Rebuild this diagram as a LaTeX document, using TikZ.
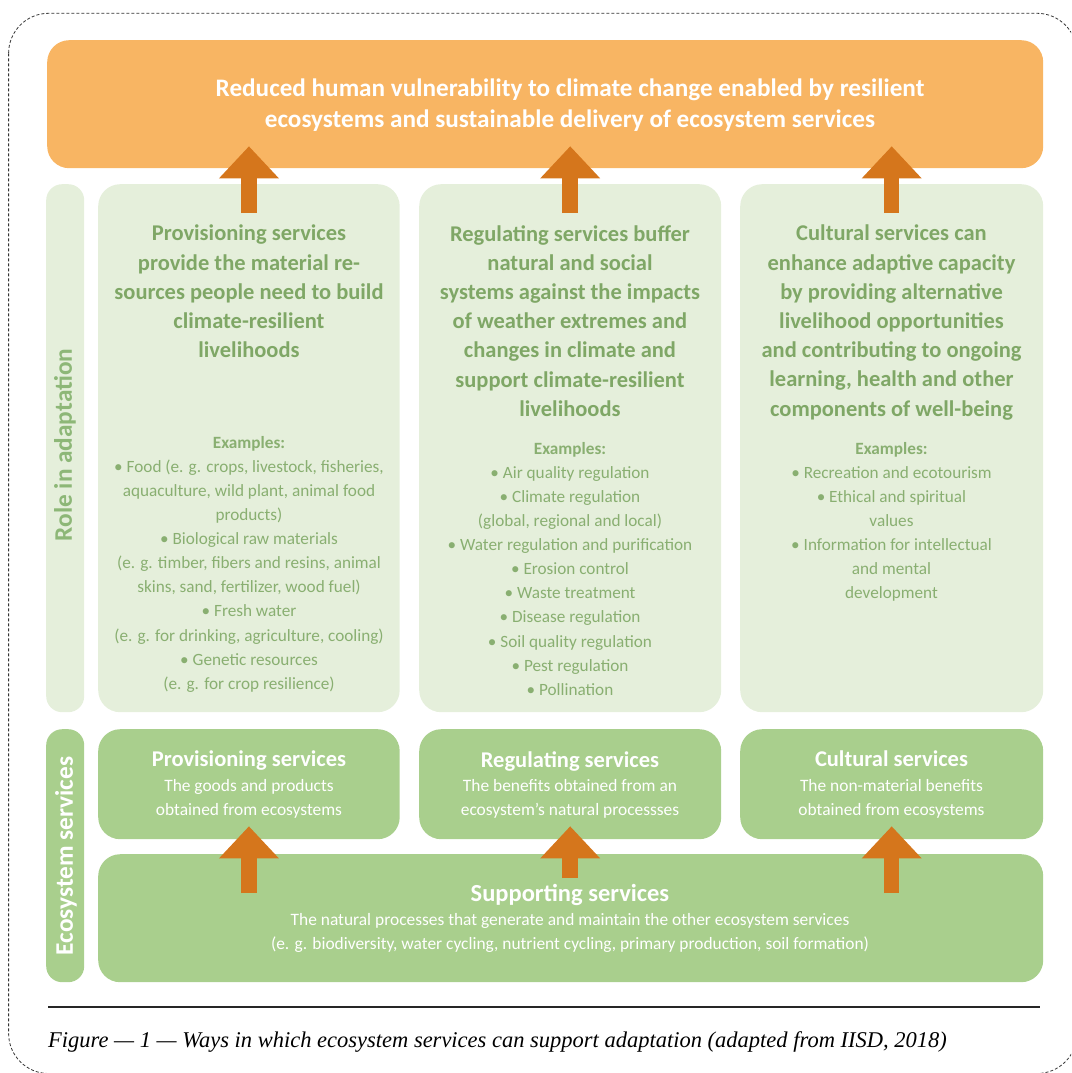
\documentclass[tikz,border=0pt]{standalone}
\usepackage{fontspec}
\setmainfont{Carlito}
\newfontfamily\capfont{Liberation Serif}
\usetikzlibrary{arrows.meta}
\definecolor{goalorange}{HTML}{F8B563}
\definecolor{arroworange}{HTML}{D5761C}
\definecolor{palegreen}{HTML}{E5EFDB}
\definecolor{midgreen}{HTML}{A9CF8D}
\definecolor{headgreen}{HTML}{7FA766}
\definecolor{examplegreen}{HTML}{89AF71}
\definecolor{sidegreen}{HTML}{8DB777}

\begin{document}
\begin{tikzpicture}[x=1pt,y=-1pt,
  panel/.style={fill=palegreen,rounded corners=22pt,anchor=north west},
  tile/.style={fill=midgreen,rounded corners=22pt,anchor=north west},
  bar/.style={rounded corners=16pt,anchor=north west,minimum width=38pt},
  headtxt/.style={anchor=north,align=center,text=headgreen,font=\fontsize{22.5}{29.2}\selectfont\bfseries},
  extxt/.style={anchor=north,align=center,text=examplegreen,font=\fontsize{17.2}{24.1}\selectfont},
  tiletxt/.style={anchor=north,align=center,text=white,font=\fontsize{17.4}{24.1}\selectfont},
  sidetxt/.style={rotate=90,font=\fontsize{25.3}{30}\selectfont\bfseries},
  bigarrow/.style={draw=arroworange,line width=15.5pt,-{Triangle[width=60pt,length=32pt,line width=0pt]}}]
\tikzstyle{every node}+=[inner sep=0pt]
\useasboundingbox (0,0) rectangle (1071,1073);
\clip (0,0) rectangle (1071,1073);
\draw [black!80,line width=0.8pt,dash pattern=on 3pt off 2pt,rounded corners=40pt] (8.6,13.3) rectangle (1077,1073.5);
\node [fill=goalorange,rounded corners=22pt,anchor=north west,minimum width=996pt,minimum height=128pt] (goal) at (47,40) {};
\node [anchor=north,align=center,text=white,font=\fontsize{25.2}{30.8}\selectfont\bfseries] (goaltxt) at (570,79) {Reduced human vulnerability to climate change enabled by resilient\\ecosystems and sustainable delivery of ecosystem services};
\node [bar,fill=palegreen,minimum height=528pt] (rolebar) at (46,184) {};
\node [panel,minimum width=301.5pt,minimum height=528pt] (rolep) at (98,184) {};
\node [panel,minimum width=302pt,minimum height=528pt] (roler) at (419,184) {};
\node [panel,minimum width=303pt,minimum height=528pt] (rolec) at (740,184) {};
\node [sidetxt,text=sidegreen] (roletxt) at (65,445) {Role in adaptation};
\node [headtxt] (headp) at (249,225) {Provisioning services\\provide the material re-\\sources people need to build\\climate-resilient\\livelihoods};
\node [headtxt] (headr) at (570,225) {Regulating services buffer\\natural and social\\systems against the impacts\\of weather extremes and\\changes in climate and\\support climate-resilient\\livelihoods};
\node [headtxt] (headc) at (891.5,225) {Cultural services can\\enhance adaptive capacity\\by providing alternative\\livelihood opportunities\\and contributing to ongoing\\learning, health and other\\components of well-being};
\node [extxt] (exp) at (249,436) {\textbf{Examples:}\\• Food (e. g. crops, livestock, fisheries,\\aquaculture, wild plant, animal food\\products)\\• Biological raw materials\\(e. g. timber, fibers and resins, animal\\skins, sand, fertilizer, wood fuel)\\• Fresh water\\(e. g. for drinking, agriculture, cooling)\\• Genetic resources\\(e. g. for crop resilience)};
\node [extxt] (exr) at (570,442) {\textbf{Examples:}\\• Air quality regulation\\• Climate regulation\\(global, regional and local)\\• Water regulation and purification\\• Erosion control\\• Waste treatment\\• Disease regulation\\• Soil quality regulation\\• Pest regulation\\• Pollination};
\node [extxt] (exc) at (891.5,442) {\textbf{Examples:}\\• Recreation and ecotourism\\• Ethical and spiritual\\values\\• Information for intellectual\\and mental\\development};
\node [bar,fill=midgreen,minimum height=253pt] (esbar) at (46,729) {};
\node [tile,minimum width=301.5pt,minimum height=110pt] (esp) at (98,729) {};
\node [tile,minimum width=302pt,minimum height=110pt] (esr) at (419,729) {};
\node [tile,minimum width=303pt,minimum height=110pt] (esc) at (740,729) {};
\node [tile,minimum width=945pt,minimum height=128pt] (support) at (98,854) {};
\node [sidetxt,text=white] (estxt) at (66,856) {Ecosystem services};
\node [tiletxt] (tilep) at (249,751) {{\fontsize{22.5}{26}\selectfont\bfseries Provisioning services}\\The goods and products\\obtained from ecosystems};
\node [tiletxt] (tiler) at (570,751) {{\fontsize{22.5}{26}\selectfont\bfseries Regulating services}\\The benefits obtained from an\\ecosystem’s natural processses};
\node [tiletxt] (tilec) at (891.5,751) {{\fontsize{22.5}{26}\selectfont\bfseries Cultural services}\\The non-material benefits\\obtained from ecosystems};
\node [tiletxt] (tiles) at (570,884) {{\fontsize{24.5}{28}\selectfont\bfseries Supporting services}\\The natural processes that generate and maintain the other ecosystem services\\(e. g. biodiversity, water cycling, nutrient cycling, primary production, soil formation)};
\draw [bigarrow] ([yshift=-29pt]rolep.north) -- ([yshift=22pt]rolep.north |- goal.south);
\draw [bigarrow] ([yshift=-29pt]roler.north) -- ([yshift=22pt]roler.north |- goal.south);
\draw [bigarrow] ([yshift=-29pt]rolec.north) -- ([yshift=22pt]rolec.north |- goal.south);
\draw [bigarrow] ([yshift=-39pt]support.north -| esp.south) -- ([yshift=13pt]esp.south);
\draw [bigarrow] ([yshift=-24pt]support.north -| esr.south) -- ([yshift=13pt]esr.south);
\draw [bigarrow] ([yshift=-39pt]support.north -| esc.south) -- ([yshift=13pt]esc.south);
\draw [black!85,line width=1.1pt] (48,1007) -- (1040,1007);
\node [anchor=base west,font=\capfont\itshape\fontsize{22.5}{26}\selectfont] (caption) at (48,1047) {Figure — 1 — Ways in which ecosystem services can support adaptation (adapted from IISD, 2018)};
\end{tikzpicture}
\end{document}
